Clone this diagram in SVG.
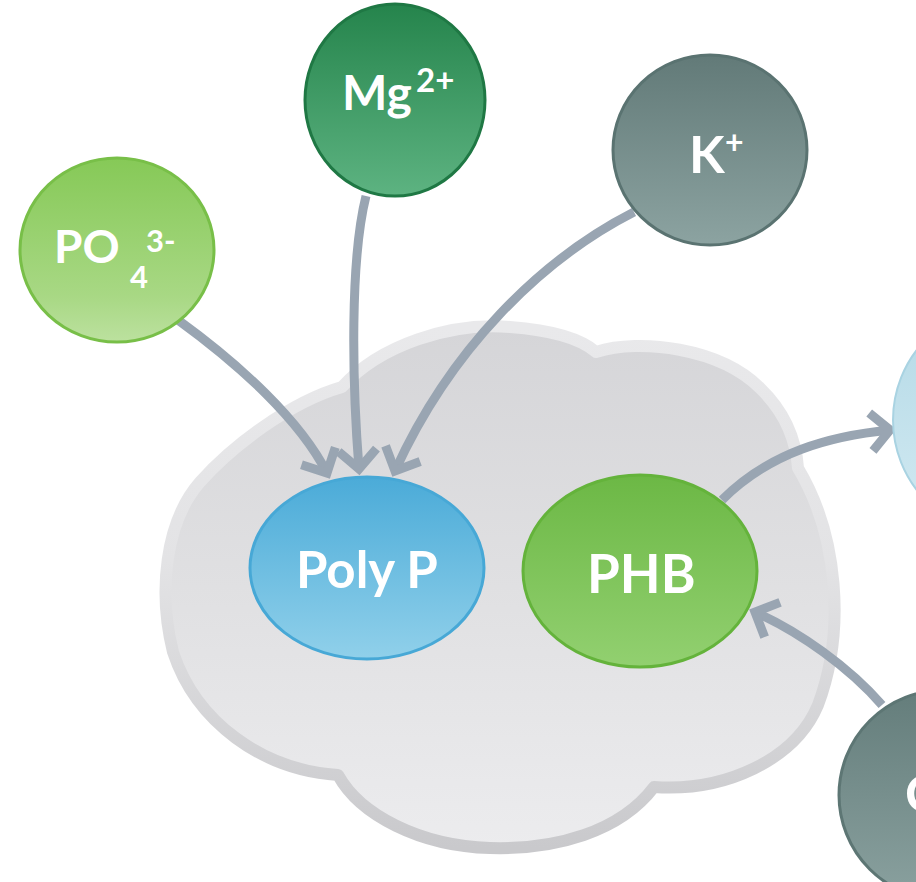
<svg xmlns="http://www.w3.org/2000/svg" width="916" height="882" viewBox="0 0 916 882">
<style>
.lbl{font-family:Lato,"Open Sans","Liberation Sans",sans-serif;font-weight:700;fill:#ffffff}
.conn{fill:none;stroke:#99a5b2;stroke-width:9;marker-end:url(#chev)}
</style>
<defs>
<marker id="chev" markerUnits="userSpaceOnUse" markerWidth="60" markerHeight="60" refX="0" refY="0" viewBox="-30 -30 60 60" orient="auto" overflow="visible">
<path d="M -19 -19 L 0 0 L -19 19" fill="none" stroke="#99a5b2" stroke-width="9" stroke-linejoin="miter"/>
</marker>
<linearGradient id="gCloudFill" x1="0" y1="0" x2="0" y2="1">
<stop offset="0" stop-color="#d5d5d8"/><stop offset="0.5" stop-color="#e0e0e2"/><stop offset="1" stop-color="#ececee"/>
</linearGradient>
<linearGradient id="gCloudRim" x1="0" y1="0" x2="0" y2="1">
<stop offset="0" stop-color="#e9e9eb"/><stop offset="0.45" stop-color="#e3e3e5"/><stop offset="1" stop-color="#c9c9cc"/>
</linearGradient>
<linearGradient id="gPO4" x1="0" y1="0" x2="0" y2="1">
<stop offset="0" stop-color="#86c957"/><stop offset="0.75" stop-color="#a8d884"/><stop offset="1" stop-color="#bce19f"/>
</linearGradient>
<linearGradient id="gMg" x1="0" y1="0" x2="0" y2="1">
<stop offset="0" stop-color="#25844c"/><stop offset="1" stop-color="#5db381"/>
</linearGradient>
<linearGradient id="gK" x1="0" y1="0" x2="0" y2="1">
<stop offset="0" stop-color="#627a78"/><stop offset="1" stop-color="#8ca3a1"/>
</linearGradient>
<linearGradient id="gPoly" x1="0" y1="0" x2="0" y2="1">
<stop offset="0" stop-color="#4babd8"/><stop offset="1" stop-color="#90d0ea"/>
</linearGradient>
<linearGradient id="gPHB" x1="0" y1="0" x2="0" y2="1">
<stop offset="0" stop-color="#6cb845"/><stop offset="1" stop-color="#92d070"/>
</linearGradient>
<linearGradient id="gBlue" x1="0" y1="0" x2="0" y2="1">
<stop offset="0" stop-color="#b3d9e6"/><stop offset="1" stop-color="#d3eaf2"/>
</linearGradient>
<linearGradient id="gGrey2" x1="0" y1="0" x2="0" y2="1">
<stop offset="0" stop-color="#647d7b"/><stop offset="1" stop-color="#8aa19f"/>
</linearGradient>
</defs>
<rect width="916" height="882" fill="#ffffff"/>

<g id="cell">
<path d="M 342 387 C 380 345 450 322 510 327 C 550 330 580 338 596 352 C 640 338 720 348 760 388 C 785 412 796 440 798 468 C 838 535 846 630 818 705 C 795 760 725 792 654 787 C 620 832 555 850 490 848 C 420 846 360 815 338 775 C 262 770 196 722 173 652 C 158 592 165 522 200 482 C 232 446 290 402 342 387 Z" fill="url(#gCloudFill)" stroke="url(#gCloudRim)" stroke-width="12" stroke-linejoin="round"/>
</g>

<g id="connectors">
<path class="conn" d="M 178 320 C 240 365 300 420 327 473"/>
<path class="conn" d="M 366 196 C 350 260 352 380 359 469"/>
<path class="conn" d="M 634 212 C 540 260 450 350 395 471"/>
<path class="conn" d="M 722 500 C 770 452 830 436 890 430"/>
<path class="conn" d="M 882 705 C 850 668 800 632 755 612"/>
</g>

<g id="po4">
<ellipse cx="117" cy="250" rx="97" ry="92" fill="url(#gPO4)" stroke="#78bf48" stroke-width="3"/>
<text class="lbl" x="54" y="263" font-size="46">PO</text>
<text class="lbl" x="130" y="288" font-size="31">4</text>
<text class="lbl" x="146" y="252" font-size="31">3-</text>
</g>

<g id="mg">
<ellipse cx="395" cy="100" rx="90" ry="96" fill="url(#gMg)" stroke="#1f7844" stroke-width="3"/>
<text class="lbl" x="342" y="110" font-size="48">Mg</text>
<text class="lbl" x="416" y="92" font-size="33">2+</text>
</g>

<g id="k">
<ellipse cx="710" cy="150" rx="97" ry="95" fill="url(#gK)" stroke="#5a7371" stroke-width="3"/>
<text class="lbl" x="689" y="173" font-size="52">K</text>
<text class="lbl" x="725" y="154" font-size="32">+</text>
</g>

<g id="polyp">
<ellipse cx="367" cy="568" rx="117" ry="91" fill="url(#gPoly)" stroke="#47a8d6" stroke-width="3"/>
<text class="lbl" x="296" y="588" font-size="51">Poly P</text>
</g>

<g id="phb">
<ellipse cx="640" cy="571" rx="117" ry="96" fill="url(#gPHB)" stroke="#64b33b" stroke-width="3"/>
<text class="lbl" x="587" y="593" font-size="53">PHB</text>
</g>

<g id="right-node">
<circle cx="1008" cy="420" r="115" fill="url(#gBlue)" stroke="#a9d3e2" stroke-width="2"/>
</g>

<g id="bottom-right-node">
<circle cx="944" cy="795" r="105" fill="url(#gGrey2)" stroke="#5d7674" stroke-width="3"/>
<text class="lbl" x="905" y="812" font-size="52">C</text>
</g>
</svg>
